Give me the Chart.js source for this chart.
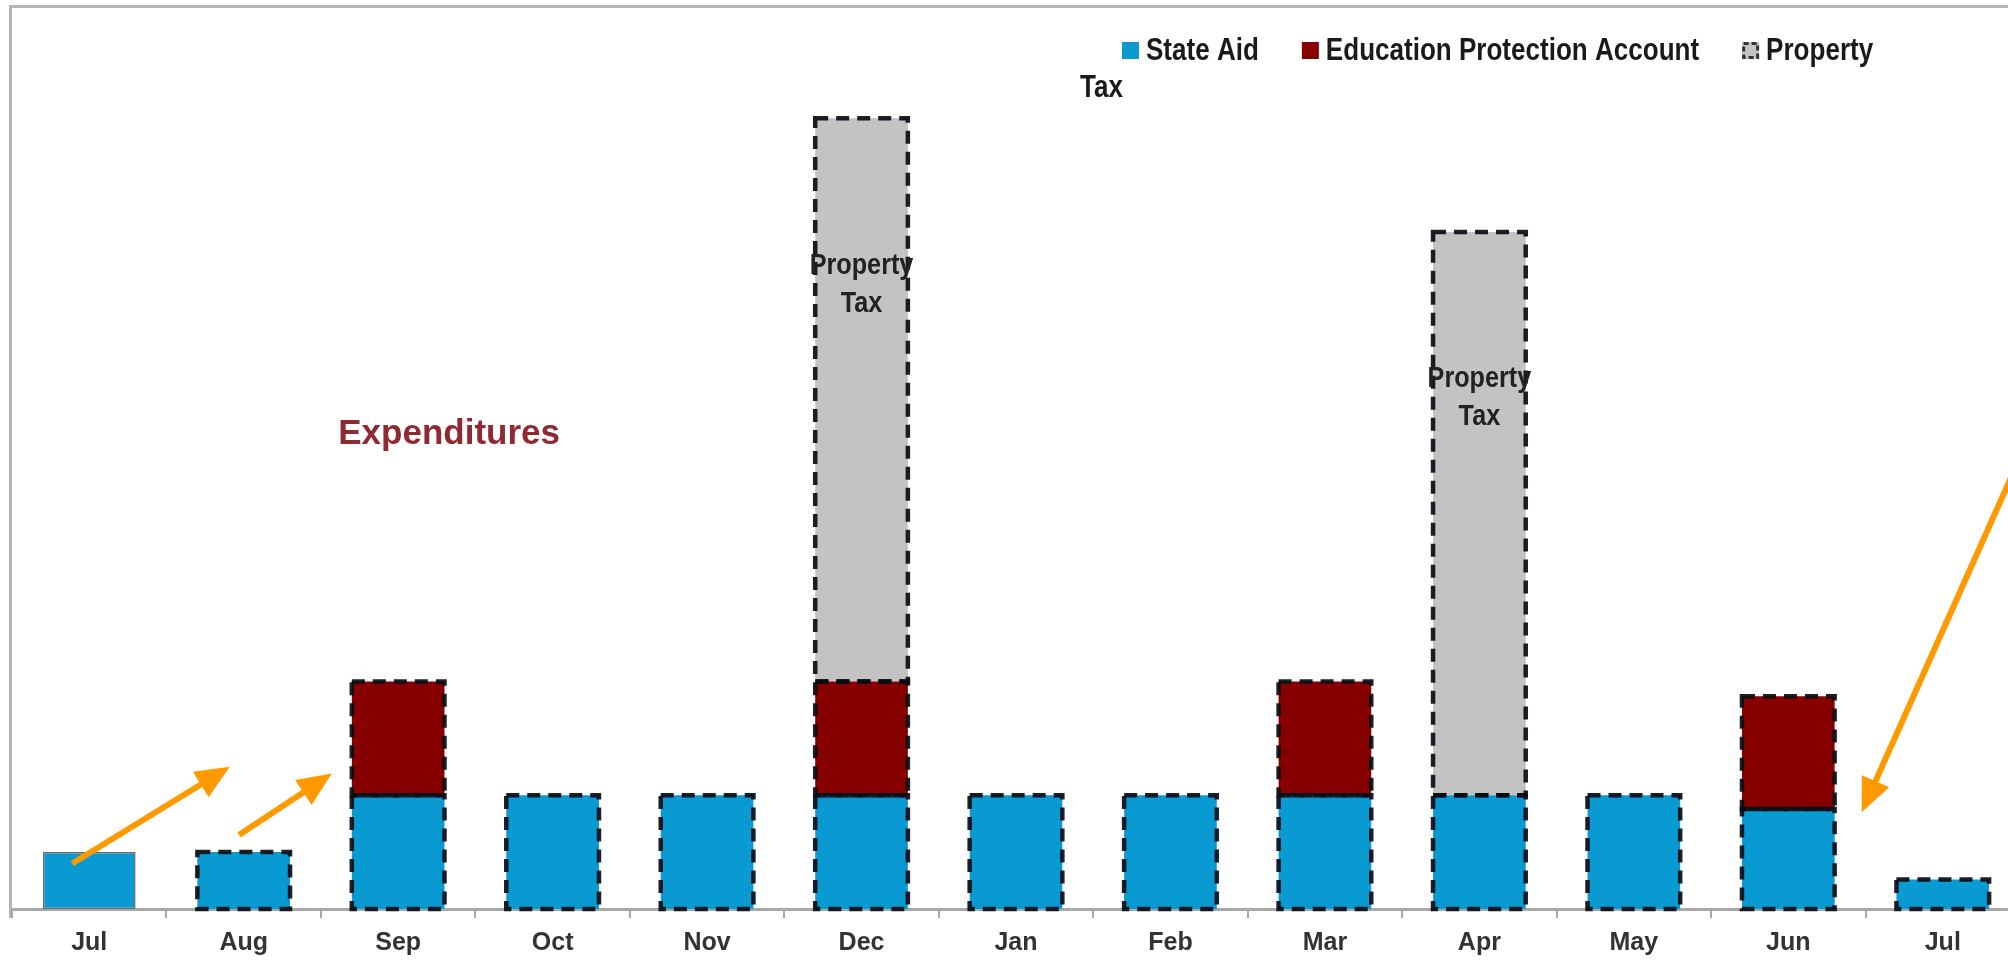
<!DOCTYPE html>
<html>
<head>
<meta charset="utf-8">
<script src="https://cdn.jsdelivr.net/npm/chart.js@4.4.1/dist/chart.umd.min.js"></script>
<style>
  html, body { margin: 0; padding: 0; background: #fff; overflow: hidden; width: 2008px; height: 961px; }
  #wrap { position: absolute; left: 0; top: 0; width: 2030px; height: 961px; }
</style>
</head>
<body>
<div id="wrap"><canvas id="c"></canvas></div>
<script>
// Monthly cash flow by revenue source
const months = ['Jul', 'Aug', 'Sep', 'Oct', 'Nov', 'Dec', 'Jan', 'Feb', 'Mar', 'Apr', 'May', 'Jun', 'Jul'];
const stateAid = [50, 50, 100, 100, 100, 100, 100, 100, 100, 100, 100, 88, 26];
const educationProtection = [null, null, 100, null, null, 100, null, null, 100, null, null, 99, null];
const propertyTax = [null, null, null, null, null, 495, null, null, null, 495, null, null, null];
const seriesNames = ['State Aid', 'Education Protection Account', 'Property Tax'];
const noteText = 'Expenditures';

// Layout / style constants
const FONT = "'Liberation Sans', Arial, sans-serif";
const NARROW = 0.84; // horizontal squeeze for narrow-looking labels
const COLORS = { aid: '#0a9ad2', epa: '#860000', prop: '#c3c3c3', arrow: '#ff9900', note: '#8e2a33' };
const Y_MAX = 792;
// annotation arrows in (category index, value) space
const arrows = [
  { from: [-0.11, 40], to: [0.91, 125] },
  { from: [0.97, 65], to: [1.57, 119] },
  { from: [12.52, 403], to: [11.475, 85] }
];
const notePos = [2.33, 417];

function narrowText(ctx, text, x, y, align) {
  const w = ctx.measureText(text).width * NARROW;
  let left = x;
  if (align === 'center') left = x - w / 2;
  ctx.save();
  ctx.textAlign = 'left';
  ctx.translate(left, y);
  ctx.scale(NARROW, 1);
  ctx.fillText(text, 0, 0);
  ctx.restore();
  return w;
}

function drawArrow(ctx, x1, y1, x2, y2) {
  const ang = Math.atan2(y2 - y1, x2 - x1);
  const headLen = 34, headHalf = 15;
  const bx = x2 - headLen * Math.cos(ang), by = y2 - headLen * Math.sin(ang);
  ctx.strokeStyle = COLORS.arrow;
  ctx.fillStyle = COLORS.arrow;
  ctx.lineWidth = 6;
  ctx.lineCap = 'butt';
  ctx.beginPath();
  ctx.moveTo(x1, y1);
  ctx.lineTo(bx + 2 * Math.cos(ang), by + 2 * Math.sin(ang));
  ctx.stroke();
  ctx.beginPath();
  ctx.moveTo(x2, y2);
  ctx.lineTo(bx + headHalf * Math.sin(ang), by - headHalf * Math.cos(ang));
  ctx.lineTo(bx - headHalf * Math.sin(ang), by + headHalf * Math.cos(ang));
  ctx.closePath();
  ctx.fill();
}

const decorPlugin = {
  id: 'decor',
  beforeDraw(chart) {
    const { ctx, chartArea: a } = chart;
    ctx.save();
    ctx.strokeStyle = '#b4b4b4';
    ctx.lineWidth = 3;
    ctx.beginPath();
    ctx.moveTo(a.left - 1.5, a.bottom + 9);
    ctx.lineTo(a.left - 1.5, a.top - 1.5);
    ctx.lineTo(chart.width, a.top - 1.5);
    ctx.stroke();
    ctx.restore();
  },
  afterDatasetsDraw(chart) {
    const ctx = chart.ctx;
    ctx.save();
    chart.data.datasets.forEach((ds, di) => {
      const meta = chart.getDatasetMeta(di);
      meta.data.forEach((el, i) => {
        if (ds.data[i] == null) return;
        if (di === 0 && i === 0) return; // first bar keeps its thin solid outline
        const p = el.getProps(['x', 'y', 'base', 'width'], true);
        const left = p.x - p.width / 2;
        const top = Math.min(p.y, p.base);
        const h = Math.abs(p.base - p.y);
        ctx.setLineDash([13, 8]);
        ctx.lineWidth = 4.5;
        ctx.strokeStyle = 'rgba(10,12,20,0.92)';
        ctx.strokeRect(left, top, p.width, h);
      });
    });
    ctx.setLineDash([]);
    // in-bar labels for property tax segments
    const metaP = chart.getDatasetMeta(2);
    const words = seriesNames[2].split(' ');
    ctx.fillStyle = '#222';
    ctx.font = 'bold 30px ' + FONT;
    ctx.textBaseline = 'middle';
    metaP.data.forEach((el, i) => {
      if (propertyTax[i] == null) return;
      const p = el.getProps(['x', 'y'], true);
      narrowText(ctx, words[0], p.x, p.y + 147, 'center');
      narrowText(ctx, words[1], p.x, p.y + 185, 'center');
    });
    ctx.restore();
  },
  afterDraw(chart) {
    const { ctx, scales } = chart;
    const xs = scales.x, ys = scales.y;
    ctx.save();
    // legend
    ctx.font = 'bold 31px ' + FONT;
    ctx.textBaseline = 'middle';
    let lx = 1122;
    const ly = 51;
    const fills = [COLORS.aid, COLORS.epa, COLORS.prop];
    seriesNames.forEach((name, k) => {
      ctx.fillStyle = fills[k];
      ctx.fillRect(lx, ly - 9, 17, 17);
      if (k === 2) {
        ctx.strokeStyle = '#333';
        ctx.lineWidth = 3;
        ctx.setLineDash([5, 3]);
        ctx.strokeRect(lx + 1.5, ly - 7.5, 14, 14);
        ctx.setLineDash([]);
      }
      const text = k === 2 ? name.split(' ')[0] : name;
      ctx.fillStyle = '#1a1a1a';
      const w = narrowText(ctx, text, lx + 24, ly, 'left');
      lx += 24 + w + 43;
    });
    narrowText(ctx, seriesNames[2].split(' ')[1], 1080, 88, 'left');

    // note text
    ctx.font = 'bold 35px ' + FONT;
    ctx.fillStyle = COLORS.note;
    ctx.textAlign = 'center';
    ctx.fillText(noteText, xs.getPixelForValue(notePos[0]), ys.getPixelForValue(notePos[1]));

    // arrows
    arrows.forEach(a => {
      drawArrow(ctx,
        xs.getPixelForValue(a.from[0]), ys.getPixelForValue(a.from[1]),
        xs.getPixelForValue(a.to[0]), ys.getPixelForValue(a.to[1]));
    });
    ctx.restore();
  }
};

new Chart(document.getElementById('c'), {
  type: 'bar',
  data: {
    labels: months,
    datasets: [
      {
        label: seriesNames[0], data: stateAid, backgroundColor: COLORS.aid,
        borderWidth: ctx => ctx.dataIndex === 0 ? 1.5 : 0,
        borderColor: '#6a6a6a', borderSkipped: false
      },
      { label: seriesNames[1], data: educationProtection, backgroundColor: COLORS.epa, borderWidth: 0 },
      { label: seriesNames[2], data: propertyTax, backgroundColor: COLORS.prop, borderWidth: 0 }
    ]
  },
  options: {
    responsive: true,
    maintainAspectRatio: false,
    animation: false,
    devicePixelRatio: 1,
    layout: { padding: { left: 12, right: 10, top: 8, bottom: 0 } },
    datasets: { bar: { categoryPercentage: 1, barPercentage: 0.6 } },
    plugins: { legend: { display: false }, tooltip: { enabled: false } },
    scales: {
      x: {
        stacked: true,
        offset: true,
        grid: { offset: true, drawOnChartArea: false, drawTicks: true, tickLength: 9, color: '#a8a8a8', lineWidth: 2 },
        border: { display: true, color: '#a8a8a8', width: 3 },
        ticks: { color: '#333', font: { family: FONT, size: 25, weight: 'bold' }, padding: 10, maxRotation: 0, autoSkip: false },
        afterFit(scale) { scale.height = 52; }
      },
      y: { stacked: true, display: false, min: 0, max: Y_MAX }
    }
  },
  plugins: [decorPlugin]
});
</script>
</body>
</html>
